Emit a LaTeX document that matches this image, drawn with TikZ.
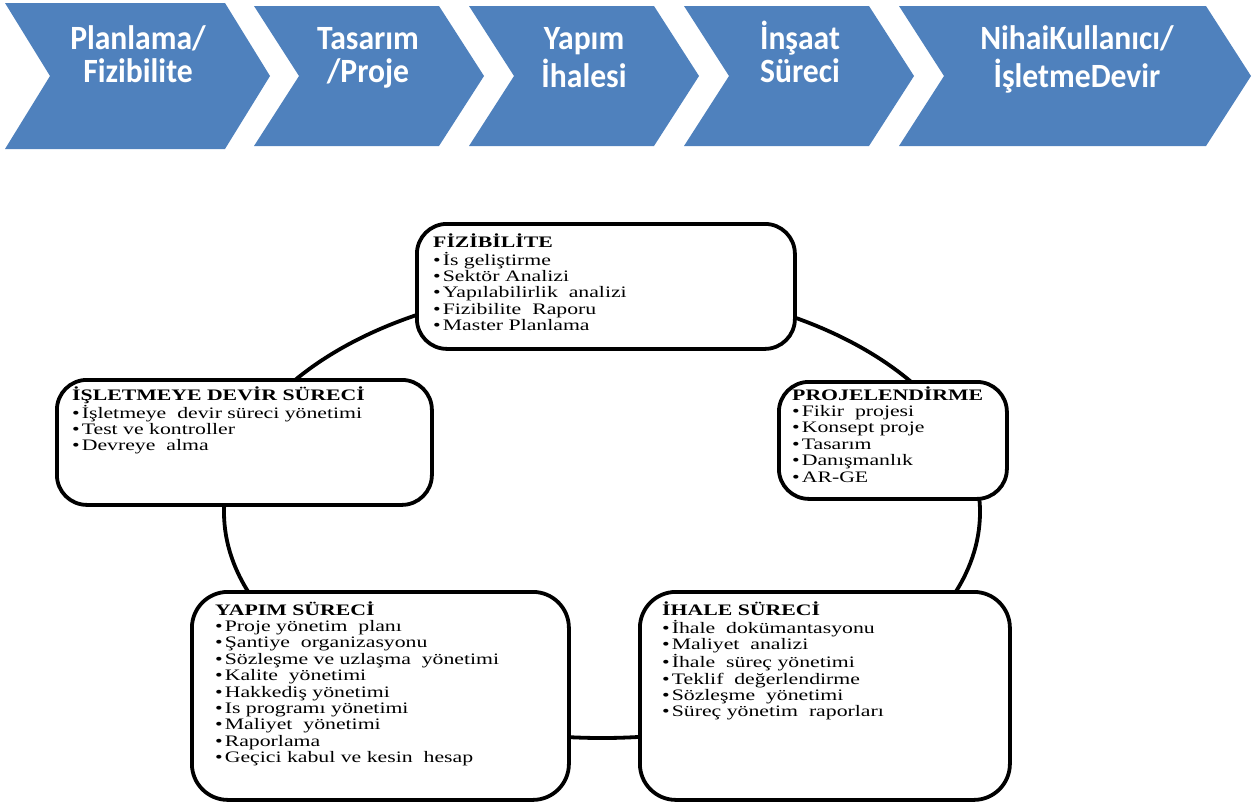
\documentclass[tikz,border=0pt]{standalone}
\usepackage{fontspec}
\newfontfamily\chevfont{Carlito}[FakeStretch=0.93]
\newfontfamily\boxfont{Liberation Serif}[FakeStretch=1.36]
\definecolor{chevblue}{RGB}{79,129,189}
\newcommand{\mybul}{\textbullet\hspace{2pt}}
\begin{document}
\begin{tikzpicture}[x=1pt,y=-1pt,
  chev/.style={fill=chevblue, draw=none},
  chevtext/.style={anchor=base, inner sep=0pt, text=white, font=\chevfont\bfseries\fontsize{34}{32}\selectfont},
  card/.style={draw=black, line width=3.8pt, fill=white, rounded corners=30pt, anchor=north west, inner sep=0pt},
  cardtext/.style={anchor=base west, inner sep=0pt, font=\boxfont\fontsize{16}{16.4}\selectfont},
  ring/.style={draw=black, line width=3.8pt}]
\useasboundingbox (0,0) rectangle (1255,801);
% chevrons
\path[chev] (5,3) -- (225,3) -- (270,76) -- (225,149) -- (5,149) -- (50,76) -- cycle;
\path[chev] (254,6) -- (439,6) -- (484,76) -- (439,146) -- (254,146) -- (299,76) -- cycle;
\path[chev] (469,6) -- (654,6) -- (699,76) -- (654,146) -- (469,146) -- (514,76) -- cycle;
\path[chev] (684,6) -- (869,6) -- (914,76) -- (869,146) -- (684,146) -- (729,76) -- cycle;
\path[chev] (899,6) -- (1206,6) -- (1251,76) -- (1206,146) -- (899,146) -- (944,76) -- cycle;
\node[chevtext] (c1) at (138,49) {\begin{tabular}[t]{@{}c@{}}Planlama/\\Fizibilite\end{tabular}};
\node[chevtext] (c2) at (368,49) {\begin{tabular}[t]{@{}c@{}}Tasarım\\/Proje\end{tabular}};
\node[chevtext] (c3) at (584,49) {\begin{tabular}[t]{@{}c@{}}Yapım\\İhalesi\end{tabular}};
\node[chevtext] (c4) at (800,49) {\begin{tabular}[t]{@{}c@{}}İnşaat\\Süreci\end{tabular}};
\node[chevtext] (c5) at (1077,49) {\begin{tabular}[t]{@{}c@{}}NihaiKullanıcı/\\İşletmeDevir\end{tabular}};
% ring
\draw[ring] (602,512) ellipse [x radius=378pt, y radius=226pt];
% cards
\node[card, minimum width=378pt, minimum height=125pt] (fiz) at (415,222) {};
\node[card, minimum width=228pt, minimum height=117pt] (proj) at (777,380) {};
\node[card, minimum width=375pt, minimum height=125pt] (isl) at (55,378) {};
\node[card, minimum width=377pt, minimum height=208pt, rounded corners=36pt] (yap) at (190,590) {};
\node[card, minimum width=370pt, minimum height=208pt, rounded corners=36pt] (iha) at (638,590) {};
% texts
\node[cardtext] (fizt) at (433,247) {\begin{tabular}[t]{@{}l@{}}
\textbf{FİZİBİLİTE}\\
\mybul İs geliştirme\\
\mybul Sektör Analizi\\
\mybul Yapılabilirlik\ \ analizi\\
\mybul Fizibilite\ \ Raporu\\
\mybul Master Planlama\end{tabular}};
\node[cardtext] (projt) at (792,400) {\begin{tabular}[t]{@{}l@{}}
\textbf{PROJELENDİRME}\\
\mybul Fikir\ \ projesi\\
\mybul Konsept proje\\
\mybul Tasarım\\
\mybul Danışmanlık\\
\mybul AR-GE\end{tabular}};
\node[cardtext] (islt) at (72,400) {\begin{tabular}[t]{@{}l@{}}
\textbf{İŞLETMEYE DEVİR SÜRECİ}\\
\mybul İşletmeye\ \ devir süreci yönetimi\\
\mybul Test ve kontroller\\
\mybul Devreye\ \ alma\end{tabular}};
\node[cardtext] (yapt) at (215,615) {\begin{tabular}[t]{@{}l@{}}
\textbf{YAPIM SÜRECİ}\\
\mybul Proje yönetim\ \ planı\\
\mybul Şantiye\ \ organizasyonu\\
\mybul Sözleşme ve uzlaşma\ \ yönetimi\\
\mybul Kalite\ \ yönetimi\\
\mybul Hakkediş yönetimi\\
\mybul Is programı yönetimi\\
\mybul Maliyet\ \ yönetimi\\
\mybul Raporlama\\
\mybul Geçici kabul ve kesin\ \ hesap\end{tabular}};
\node[cardtext] (ihat) at (662,615) {\begin{tabular}[t]{@{}l@{}}
\textbf{İHALE SÜRECİ}\\
\mybul İhale\ \ dokümantasyonu\\
\mybul Maliyet\ \ analizi\\
\mybul İhale\ \ süreç yönetimi\\
\mybul Teklif\ \ değerlendirme\\
\mybul Sözleşme\ \ yönetimi\\
\mybul Süreç yönetim\ \ raporları\end{tabular}};
\end{tikzpicture}
\end{document}
